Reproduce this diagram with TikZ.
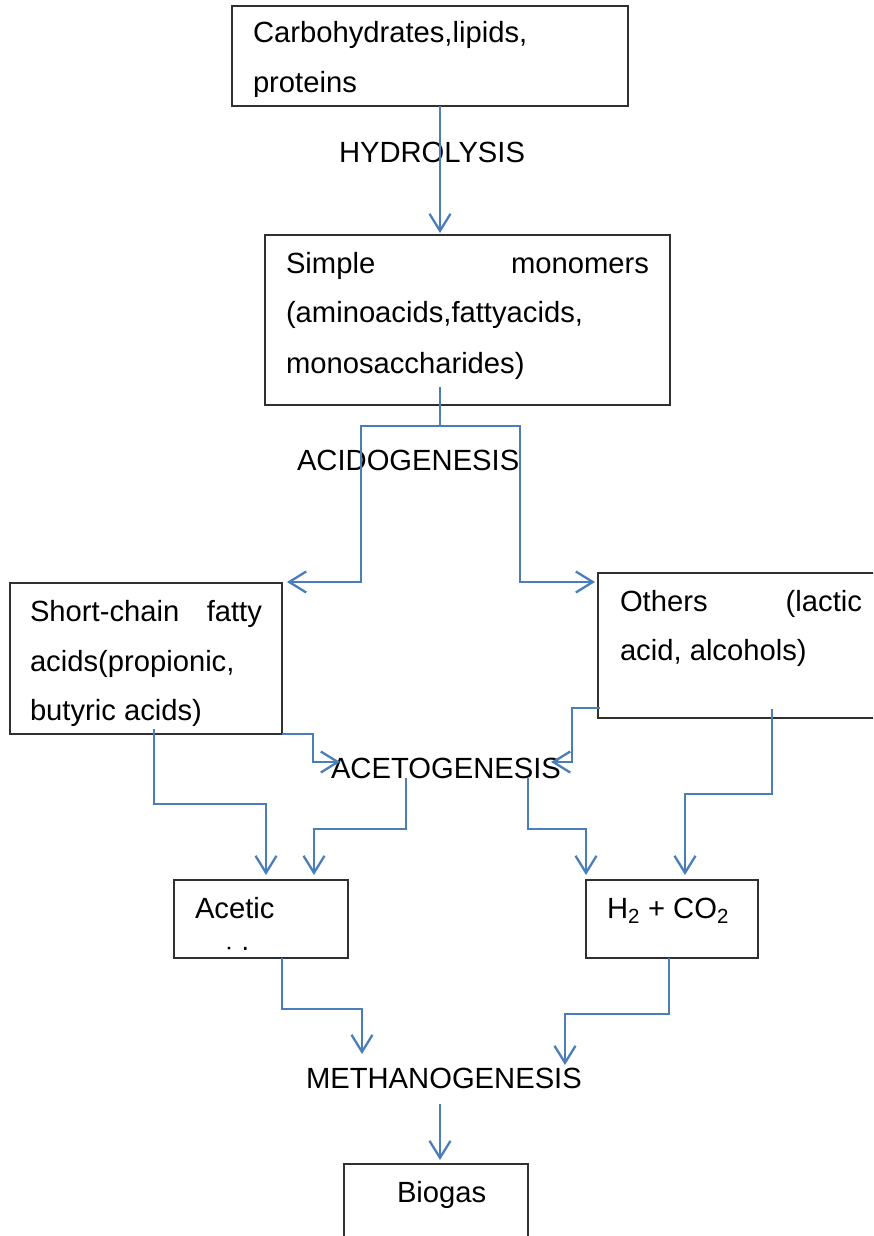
\documentclass[tikz,border=0pt]{standalone}
\usepackage{fontspec}
\setmainfont{Liberation Sans}
\usetikzlibrary{arrows.meta}
\definecolor{flowblue}{HTML}{4A7EBB}
\definecolor{boxgray}{HTML}{303030}
\tikzset{
  box/.style={draw=boxgray, line width=1.6pt, inner sep=0pt, outer sep=0pt},
  txt/.style={anchor=base west, inner sep=0pt, outer sep=0pt, font=\fontsize{29.2pt}{35pt}\selectfont},
  flow/.style={draw=flowblue, line width=2.3pt, line join=miter},
  flowarr/.style={flow, -{Straight Barb[length=17pt,width=21pt,line width=2.3pt]}},
}
\begin{document}
\begin{tikzpicture}[x=1pt,y=-1pt]
\clip (0,0) rectangle (873,1236);
\fill[white] (0,0) rectangle (873,1236);

% boxes
\node[box, minimum width=396pt, minimum height=100pt] (top) at (430,56) {};
\node[box, minimum width=405pt, minimum height=170pt] (mono) at (467.5,320) {};
\node[box, minimum width=272pt, minimum height=151pt] (scfa) at (146,658.5) {};
\node[box, minimum width=302pt, minimum height=145pt] (oth) at (749,645.5) {};
\node[box, minimum width=174pt, minimum height=78pt] (acet) at (261,919) {};
\node[box, minimum width=172pt, minimum height=78pt] (htwo) at (672,919) {};
\node[box, minimum width=184pt, minimum height=100pt] (bio) at (436,1214) {};

% box texts
\node[txt] (t1a) at (253,43) {Carbohydrates,lipids,};
\begin{scope}
  \clip (232,6) rectangle (628,97);
  \node[txt] (t1b) at (253,93) {proteins};
\end{scope}
\node[txt] (t2a) at (286,273) {\makebox[363pt][s]{Simple monomers}};
\node[txt] (t2b) at (286,322) {(aminoacids,fattyacids,};
\node[txt] (t2c) at (286,373) {monosaccharides)};
\node[txt] (t3a) at (30,621) {\makebox[232pt][s]{Short-chain fatty}};
\node[txt] (t3b) at (30,671) {acids(propionic,};
\node[txt] (t3c) at (30,720) {butyric acids)};
\node[txt] (t4a) at (620,611) {\makebox[242pt][s]{Others (lactic}};
\node[txt] (t4b) at (620,660) {acid, alcohols)};
\node[txt] (t5a) at (195,918) {Acetic};
\begin{scope}
  \clip (174,880) rectangle (348,949);
  \node[txt] (t5b) at (195,968) {acid};
\end{scope}
\node[txt] (t6) at (607,918) {H\textsubscript{2} + CO\textsubscript{2}};
\node[txt] (t7) at (397,1202) {Biogas};

% process labels
\node[txt] (hyd) at (339,162) {HYDROLYSIS};
\node[txt] (acd) at (297,470) {ACIDOGENESIS};
\node[txt] (act) at (331,778) {ACETOGENESIS};
\node[txt] (met) at (306,1088) {METHANOGENESIS};

% connectors
\coordinate (split) at (440,426);
\draw[flowarr] (top.south -| split) -- (440,233);
\draw[flow] (440,387) -- (split);
\draw[flowarr] (split) -- (361,426) -- (361,582) -- (287,582);
\draw[flowarr] (split) -- (520,426) -- (520,582) -- (595,582);

\draw[flowarr] (scfa.south east) -- (313,734) -- (313,762) -- (340,762);
\draw[flowarr] (600,708) -- (572,708) -- (572,762) -- (551,762);

\draw[flowarr] (154,729) -- (154,804) -- (266,804) -- (266,875);
\draw[flowarr] (406,778) -- (406,829) -- (314,829) -- (314,875);
\draw[flowarr] (528,778) -- (528,829) -- (586,829) -- (586,875);
\draw[flowarr] (772,709) -- (772,794) -- (685,794) -- (685,875);

\draw[flowarr] (282,958) -- (282,1009) -- (362,1009) -- (362,1054);
\draw[flowarr] (669,958) -- (669,1014) -- (565,1014) -- (565,1065);

\draw[flowarr] (440,1104) -- (440,1160);
\end{tikzpicture}
\end{document}
